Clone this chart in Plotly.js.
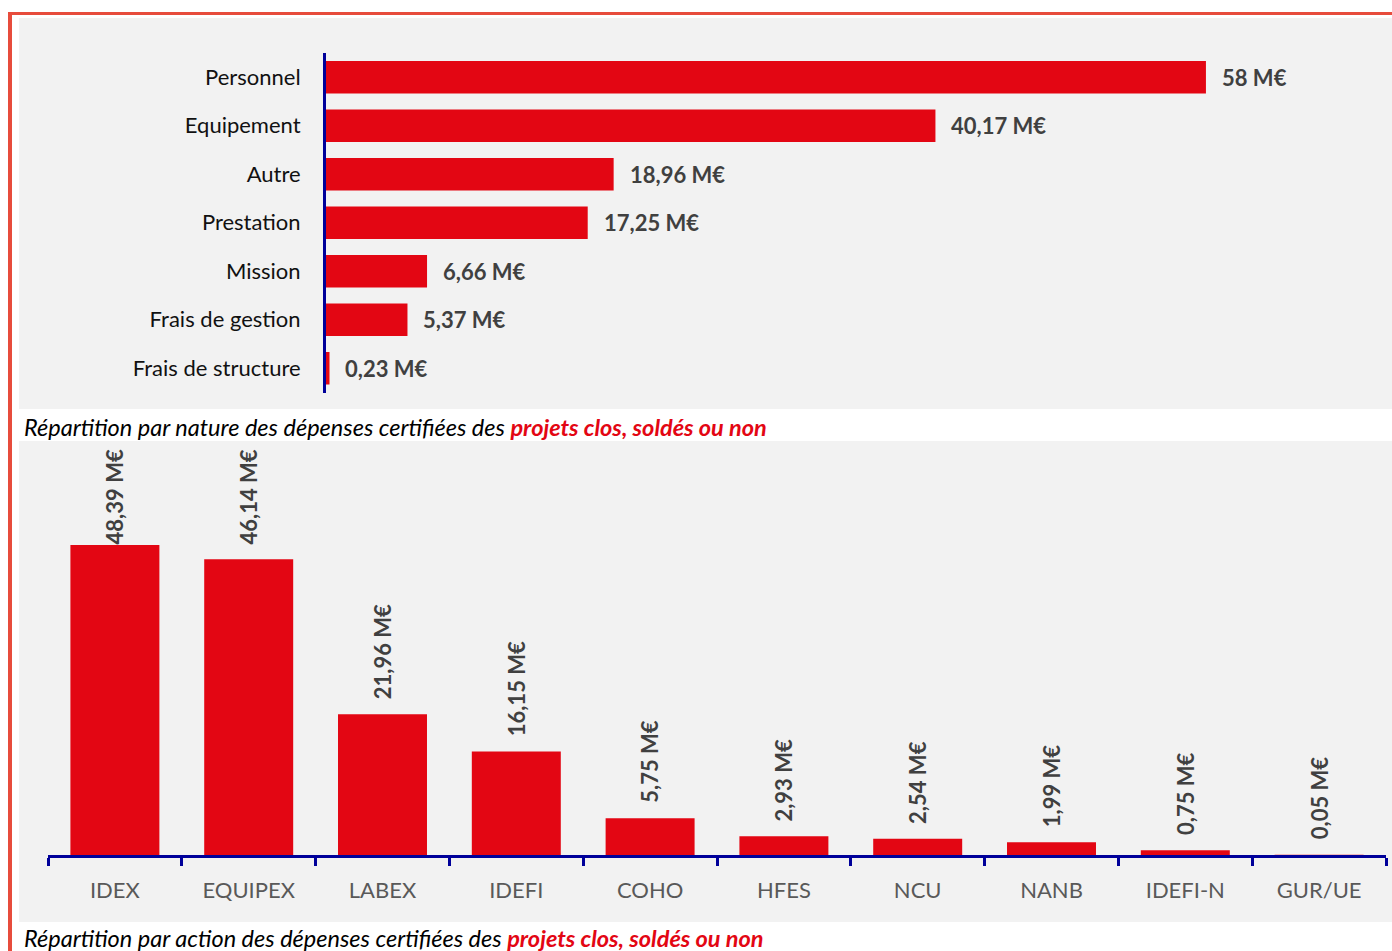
<!DOCTYPE html>
<html>
<head>
<meta charset="utf-8">
<script src="https://cdn.plot.ly/plotly-3.0.1.min.js"></script>
<style>html,body{margin:0;padding:0;background:#fff;}#chart{width:1392px;height:951px;}</style>
</head>
<body>
<div id="chart"></div>
<script>
// ---- Data ----
const natureCategories = ["Personnel", "Equipement", "Autre", "Prestation", "Mission", "Frais de gestion", "Frais de structure"];
const natureValues = [58, 40.17, 18.96, 17.25, 6.66, 5.37, 0.23];

const actionCategories = ["IDEX", "EQUIPEX", "LABEX", "IDEFI", "COHO", "HFES", "NCU", "NANB", "IDEFI-N", "GUR/UE"];
const actionValues = [48.39, 46.14, 21.96, 16.15, 5.75, 2.93, 2.54, 1.99, 0.75, 0.05];

const captionStart1 = "Répartition par nature des dépenses certifiées des ";
const captionStart2 = "Répartition par action des dépenses certifiées des ";
const captionEnd = "projets clos, soldés ou non";

// ---- Styles ----
const W = 1392, H = 951;
const RED = "#e30613";
const NAVY = "#00009a";
const LABEL = "#404040";
const FONT = "Lato, 'Open Sans', sans-serif";
const CAPFONT = "Lato, 'Open Sans', sans-serif";
const px = v => v / W;
const py = v => 1 - v / H;

function fmt(v) {
  const s = Number.isInteger(v) ? String(v) : v.toFixed(2).replace('.', ',');
  return s + " M€";
}

const topRange = [0, 70];
const botRange = [0, 64.6];
const botTopPx = 441, botBasePx = 855;
const ppu = (botBasePx - botTopPx) / (botRange[1] - botRange[0]);

const traces = [
  {
    type: "bar", orientation: "h",
    y: natureCategories, x: natureValues,
    xaxis: "x", yaxis: "y",
    marker: {color: RED},
    hoverinfo: "skip"
  },
  {
    type: "bar",
    x: actionCategories, y: actionValues,
    xaxis: "x2", yaxis: "y2",
    marker: {color: RED},
    hoverinfo: "skip"
  }
];

const annotations = [];
natureCategories.forEach((c, i) => {
  annotations.push({
    xref: "x", yref: "y", x: natureValues[i], y: c,
    text: "<b>" + fmt(natureValues[i]) + "</b>",
    showarrow: false, xanchor: "left", yanchor: "middle", xshift: 14,
    font: {family: FONT, size: 22, color: LABEL}
  });
});
const gapPx = 13;
actionCategories.forEach((c, i) => {
  const v = actionValues[i];
  const t = fmt(v);
  const labelLen = t.length * 11.8;
  const room = (botRange[1] - v) * ppu;
  const a = {
    xref: "x2", yref: "y2", x: c,
    text: "<b>" + t + "</b>",
    showarrow: false, textangle: -90,
    font: {family: FONT, size: 22, color: LABEL}
  };
  if (room < gapPx + labelLen) {
    a.y = botRange[1]; a.yanchor = "top"; a.yshift = -6;
  } else {
    a.y = v; a.yanchor = "bottom"; a.yshift = gapPx;
  }
  annotations.push(a);
});

// captions
annotations.push({
  xref: "paper", yref: "paper", x: px(22), y: py(427), xanchor: "left", yanchor: "middle",
  showarrow: false,
  text: "<i>" + captionStart1 + "</i><b><i><span style='color:" + RED + "'>" + captionEnd + "</span></i></b>",
  font: {family: CAPFONT, size: 23.5, color: "#000"}
});
annotations.push({
  xref: "paper", yref: "paper", x: px(22), y: py(938), xanchor: "left", yanchor: "middle",
  showarrow: false,
  text: "<i>" + captionStart2 + "</i><b><i><span style='color:" + RED + "'>" + captionEnd + "</span></i></b>",
  font: {family: CAPFONT, size: 23.5, color: "#000"}
});

const shapes = [
  {type: "rect", xref: "paper", yref: "paper", x0: px(19), x1: 1, y0: py(409), y1: py(18), fillcolor: "#f2f2f2", line: {width: 0}, layer: "below"},
  {type: "rect", xref: "paper", yref: "paper", x0: px(19), x1: 1, y0: py(922), y1: py(441), fillcolor: "#f2f2f2", line: {width: 0}, layer: "below"},
  {type: "line", xref: "paper", yref: "paper", x0: px(8), x1: 1, y0: py(13.5), y1: py(13.5), line: {color: "#e74c3c", width: 3}},
  {type: "line", xref: "paper", yref: "paper", x0: px(10), x1: px(10), y0: py(12), y1: 0, line: {color: "#e74c3c", width: 4}}
];

const layout = {
  width: W, height: H, autosize: false,
  margin: {l: 0, r: 0, t: 0, b: 0, pad: 0},
  paper_bgcolor: "#ffffff", plot_bgcolor: "rgba(0,0,0,0)",
  showlegend: false,
  bargap: 0.335,
  font: {family: FONT},
  xaxis: {
    domain: [px(326), px(1388)], range: topRange, anchor: "y",
    showgrid: false, zeroline: false, showticklabels: false, showline: false, fixedrange: true
  },
  yaxis: {
    domain: [py(392.5), py(53)], anchor: "x",
    type: "category", range: [6.5, -0.5],
    showgrid: false, zeroline: false,
    showline: true, linecolor: NAVY, linewidth: 3,
    ticks: "", ticklabelstandoff: 18,
    tickfont: {family: FONT, size: 22, color: "#111"}
  },
  xaxis2: {
    domain: [px(48), px(1386)], anchor: "y2",
    type: "category",
    showgrid: false, zeroline: false,
    showline: true, linecolor: NAVY, linewidth: 3,
    ticks: "outside", tickson: "boundaries", ticklen: 8, tickwidth: 3, tickcolor: NAVY,
    ticklabelstandoff: 14,
    tickfont: {family: FONT, size: 22, color: "#595959"}
  },
  yaxis2: {
    domain: [py(botBasePx), py(botTopPx)], anchor: "x2", range: botRange,
    showgrid: false, zeroline: false, showticklabels: false, showline: false
  },
  annotations: annotations,
  shapes: shapes
};

Plotly.newPlot("chart", traces, layout, {displayModeBar: false, staticPlot: true});
</script>
</body>
</html>
